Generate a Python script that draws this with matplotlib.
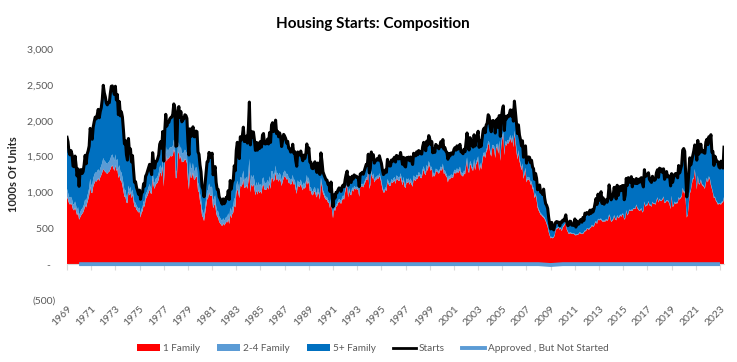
import matplotlib
matplotlib.use("Agg")
import matplotlib.pyplot as plt
from matplotlib.ticker import FuncFormatter
from matplotlib.patches import Patch
from matplotlib.lines import Line2D
import numpy as np

# --- DATA: monthly, Jan 1969 - May 2023, thousands of units (SAAR) ---
first_year = 1969

starts = [
    1769, 1705, 1561, 1524, 1583, 1528, 1368, 1358, 1507, 1381, 1229, 1327,  # 1969
    1085, 1305, 1319, 1264, 1290, 1385, 1517, 1399, 1534, 1580, 1647, 1893,  # 1970
    1828, 1741, 1910, 1986, 2049, 2026, 2083, 2158, 2041, 2128, 2182, 2295,  # 1971
    2494, 2390, 2334, 2249, 2221, 2254, 2252, 2382, 2481, 2485, 2421, 2366,  # 1972
    2481, 2289, 2365, 2084, 2266, 2067, 2123, 2051, 1874, 1677, 1724, 1526,  # 1973
    1451, 1752, 1555, 1607, 1426, 1513, 1316, 1142, 1150, 1070, 1026, 975,   # 1974
    1032, 904, 993, 1005, 1121, 1087, 1226, 1254, 1300, 1343, 1392, 1304,    # 1975
    1248, 1554, 1414, 1340, 1428, 1435, 1471, 1524, 1672, 1708, 1617, 1849,  # 1976
    1437, 1856, 2089, 1924, 1987, 1976, 2025, 2044, 2050, 2092, 2234, 2183,  # 1977
    1644, 1651, 2124, 2197, 2044, 2129, 1985, 2015, 2026, 2083, 2072, 2033,  # 1978
    1708, 1522, 1887, 1781, 1815, 1915, 1778, 1776, 1856, 1847, 1565, 1531,  # 1979
    1381, 1288, 1080, 1045, 940, 1116, 1264, 1425, 1432, 1558, 1486, 1507,   # 1980
    1547, 1246, 1306, 1360, 1140, 1045, 1041, 940, 911, 873, 837, 910,       # 1981
    843, 866, 931, 917, 1025, 902, 1166, 1046, 1144, 1173, 1372, 1303,       # 1982
    1586, 1699, 1606, 1472, 1776, 1733, 1785, 1910, 1710, 1715, 1785, 1688,  # 1983
    1897, 2260, 1663, 1851, 1774, 1843, 1732, 1586, 1698, 1590, 1689, 1612,  # 1984
    1711, 1632, 1800, 1821, 1680, 1676, 1684, 1743, 1676, 1834, 1698, 1942,  # 1985
    1972, 1848, 1876, 2008, 1820, 1852, 1776, 1830, 1774, 1640, 1726, 1809,  # 1986
    1784, 1752, 1688, 1712, 1618, 1609, 1563, 1571, 1672, 1549, 1569, 1445,  # 1987
    1365, 1564, 1522, 1523, 1577, 1500, 1442, 1520, 1473, 1533, 1676, 1558,  # 1988
    1621, 1425, 1422, 1339, 1331, 1397, 1427, 1332, 1279, 1410, 1351, 1251,  # 1989
    1551, 1437, 1289, 1248, 1212, 1177, 1171, 1115, 1110, 1014, 1145, 969,   # 1990
    798, 965, 921, 1001, 996, 1036, 1063, 1049, 1015, 1079, 1103, 1079,      # 1991
    1176, 1250, 1297, 1099, 1214, 1145, 1139, 1226, 1186, 1244, 1214, 1227,  # 1992
    1210, 1210, 1083, 1258, 1260, 1280, 1254, 1300, 1343, 1392, 1376, 1533,  # 1993
    1272, 1337, 1564, 1465, 1526, 1409, 1439, 1450, 1474, 1450, 1511, 1455,  # 1994
    1407, 1316, 1249, 1267, 1314, 1281, 1461, 1416, 1369, 1369, 1452, 1431,  # 1995
    1467, 1491, 1424, 1516, 1504, 1467, 1472, 1557, 1475, 1392, 1489, 1370,  # 1996
    1355, 1486, 1457, 1492, 1442, 1494, 1437, 1390, 1546, 1520, 1510, 1566,  # 1997
    1525, 1584, 1567, 1540, 1536, 1641, 1698, 1614, 1582, 1715, 1660, 1792,  # 1998
    1748, 1670, 1710, 1553, 1611, 1559, 1669, 1648, 1635, 1608, 1648, 1708,  # 1999
    1636, 1737, 1604, 1626, 1575, 1559, 1463, 1541, 1507, 1549, 1551, 1532,  # 2000
    1600, 1625, 1590, 1649, 1605, 1636, 1670, 1567, 1562, 1540, 1602, 1568,  # 2001
    1698, 1829, 1642, 1592, 1764, 1717, 1655, 1633, 1804, 1648, 1753, 1788,  # 2002
    1853, 1629, 1726, 1643, 1751, 1867, 1897, 1833, 1939, 1967, 2083, 2057,  # 2003
    1911, 1846, 1998, 2003, 1981, 1828, 2002, 2024, 1905, 2072, 1782, 2042,  # 2004
    2144, 2207, 1864, 2061, 2025, 2068, 2054, 2095, 2151, 2065, 2147, 1994,  # 2005
    2273, 2119, 1969, 1821, 1942, 1802, 1737, 1650, 1720, 1491, 1570, 1649,  # 2006
    1409, 1480, 1495, 1490, 1415, 1448, 1354, 1330, 1183, 1264, 1197, 1037,  # 2007
    1084, 1103, 1005, 1013, 973, 1046, 923, 844, 820, 777, 652, 560,         # 2008
    490, 582, 505, 478, 540, 585, 594, 586, 585, 534, 588, 581,              # 2009
    614, 604, 636, 687, 583, 536, 546, 599, 594, 543, 545, 539,              # 2010
    630, 517, 600, 554, 561, 608, 623, 585, 650, 610, 711, 694,              # 2011
    720, 708, 694, 753, 708, 757, 728, 770, 843, 915, 833, 976,              # 2012
    888, 962, 1010, 847, 925, 836, 883, 898, 863, 936, 1105, 1003,           # 2013
    897, 928, 957, 1071, 1001, 909, 1100, 958, 1024, 1082, 1026, 1094,       # 2014
    1097, 898, 964, 1196, 1098, 1206, 1143, 1142, 1220, 1078, 1182, 1154,    # 2015
    1125, 1194, 1124, 1183, 1141, 1193, 1206, 1128, 1077, 1317, 1221, 1241,  # 2016
    1251, 1274, 1183, 1160, 1140, 1225, 1180, 1168, 1183, 1277, 1316, 1211,  # 2017
    1338, 1299, 1326, 1278, 1329, 1183, 1220, 1291, 1217, 1225, 1229, 1091,  # 2018
    1262, 1141, 1207, 1250, 1264, 1239, 1204, 1375, 1272, 1329, 1381, 1589,  # 2019
    1612, 1574, 1258, 938, 1046, 1275, 1483, 1383, 1440, 1513, 1577, 1662,   # 2020
    1600, 1450, 1725, 1534, 1594, 1673, 1565, 1584, 1555, 1546, 1703, 1741,  # 2021
    1666, 1777, 1716, 1805, 1562, 1571, 1377, 1505, 1463, 1432, 1427, 1357,  # 2022
    1340, 1436, 1380, 1340, 1631,                                            # 2023
]

one_family = [
    940, 900, 850, 830, 850, 820, 760, 750, 790, 740, 680, 720,              # 1969
    620, 650, 680, 700, 720, 760, 820, 790, 850, 900, 960, 1080,             # 1970
    1000, 990, 1080, 1120, 1160, 1150, 1170, 1200, 1160, 1210, 1240, 1280,   # 1971
    1330, 1300, 1290, 1270, 1260, 1280, 1290, 1320, 1360, 1380, 1340, 1300,  # 1972
    1380, 1300, 1330, 1200, 1250, 1170, 1160, 1100, 1020, 940, 940, 860,     # 1973
    850, 1010, 960, 1000, 920, 970, 880, 800, 800, 760, 740, 720,            # 1974
    740, 650, 720, 740, 820, 800, 900, 930, 960, 1000, 1040, 990,            # 1975
    980, 1190, 1090, 1050, 1110, 1120, 1140, 1180, 1260, 1280, 1220, 1370,   # 1976
    1080, 1370, 1540, 1430, 1480, 1470, 1500, 1510, 1500, 1520, 1600, 1560,  # 1977
    1200, 1200, 1530, 1570, 1460, 1510, 1420, 1430, 1430, 1470, 1450, 1410,  # 1978
    1170, 1040, 1300, 1200, 1220, 1280, 1180, 1180, 1230, 1210, 1030, 1000,  # 1979
    880, 820, 680, 650, 600, 700, 800, 900, 920, 1000, 950, 960,             # 1980
    950, 780, 820, 850, 720, 660, 650, 590, 570, 550, 530, 570,              # 1981
    540, 560, 590, 580, 630, 560, 700, 640, 700, 720, 820, 790,              # 1982
    980, 1050, 1000, 920, 1100, 1080, 1110, 1180, 1060, 1070, 1100, 1050,    # 1983
    1150, 1320, 1000, 1120, 1080, 1120, 1050, 960, 1030, 970, 1030, 990,     # 1984
    1020, 980, 1090, 1110, 1040, 1040, 1040, 1080, 1040, 1130, 1050, 1200,   # 1985
    1200, 1150, 1180, 1280, 1170, 1190, 1150, 1190, 1160, 1090, 1150, 1200,  # 1986
    1230, 1210, 1180, 1190, 1130, 1130, 1110, 1120, 1180, 1110, 1120, 1040,  # 1987
    980, 1110, 1080, 1080, 1120, 1070, 1030, 1080, 1050, 1090, 1180, 1110,   # 1988
    1150, 1020, 1020, 970, 960, 1000, 1020, 960, 930, 1010, 970, 900,        # 1989
    1160, 1080, 990, 960, 920, 900, 900, 860, 850, 780, 880, 750,            # 1990
    640, 770, 740, 800, 810, 850, 870, 860, 840, 890, 920, 900,              # 1991
    1000, 1060, 1110, 930, 1030, 970, 960, 1040, 1010, 1060, 1040, 1050,     # 1992
    1040, 1040, 940, 1080, 1080, 1090, 1070, 1110, 1140, 1180, 1170, 1300,   # 1993
    1050, 1100, 1270, 1190, 1230, 1140, 1170, 1180, 1200, 1190, 1230, 1190,  # 1994
    1130, 1050, 1000, 1000, 1040, 1020, 1150, 1120, 1090, 1090, 1150, 1130,  # 1995
    1150, 1170, 1120, 1190, 1180, 1160, 1160, 1220, 1160, 1100, 1170, 1080,  # 1996
    1060, 1150, 1130, 1150, 1110, 1150, 1110, 1080, 1190, 1170, 1160, 1200,  # 1997
    1190, 1240, 1230, 1200, 1200, 1280, 1320, 1260, 1240, 1340, 1300, 1390,  # 1998
    1360, 1300, 1330, 1210, 1250, 1220, 1300, 1290, 1280, 1260, 1290, 1330,  # 1999
    1300, 1360, 1260, 1270, 1230, 1210, 1140, 1200, 1180, 1210, 1210, 1200,  # 2000
    1260, 1280, 1260, 1300, 1270, 1290, 1320, 1240, 1240, 1220, 1270, 1250,  # 2001
    1350, 1450, 1300, 1270, 1400, 1370, 1320, 1300, 1430, 1310, 1390, 1420,  # 2002
    1470, 1300, 1380, 1320, 1410, 1500, 1530, 1480, 1560, 1590, 1680, 1660,  # 2003
    1550, 1500, 1620, 1620, 1600, 1480, 1620, 1640, 1540, 1680, 1440, 1650,  # 2004
    1750, 1800, 1520, 1680, 1650, 1690, 1680, 1710, 1760, 1690, 1760, 1630,  # 2005
    1820, 1700, 1580, 1460, 1550, 1440, 1380, 1310, 1370, 1190, 1250, 1310,  # 2006
    1140, 1180, 1180, 1170, 1110, 1120, 1050, 1030, 920, 960, 900, 790,      # 2007
    750, 720, 690, 680, 660, 650, 630, 600, 560, 520, 450, 400,              # 2008
    360, 370, 360, 370, 400, 480, 490, 500, 510, 480, 500, 460,              # 2009
    510, 530, 550, 580, 480, 450, 420, 430, 430, 420, 420, 420,              # 2010
    410, 400, 410, 410, 420, 440, 420, 420, 420, 440, 460, 460,              # 2011
    490, 490, 480, 500, 510, 540, 520, 530, 570, 590, 560, 620,              # 2012
    610, 620, 620, 600, 590, 600, 590, 620, 600, 620, 680, 650,              # 2013
    590, 600, 620, 670, 630, 610, 670, 640, 650, 680, 660, 690,              # 2014
    690, 620, 640, 740, 680, 700, 750, 740, 750, 740, 770, 770,              # 2015
    770, 820, 780, 760, 740, 750, 770, 720, 740, 860, 800, 820,              # 2016
    820, 870, 820, 820, 800, 860, 840, 840, 830, 880, 920, 860,              # 2017
    900, 880, 880, 900, 930, 850, 860, 880, 880, 870, 830, 770,              # 2018
    940, 800, 810, 860, 840, 850, 850, 920, 900, 920, 940, 1050,             # 2019
    1000, 1000, 880, 650, 680, 830, 980, 1020, 1110, 1180, 1190, 1310,       # 2020
    1190, 1040, 1220, 1120, 1110, 1170, 1110, 1090, 1080, 1050, 1130, 1190,  # 2021
    1140, 1210, 1180, 1100, 1050, 990, 920, 930, 880, 860, 830, 840,         # 2022
    840, 830, 860, 860, 920,                                                 # 2023
]

two_to_four = [
    110, 100, 90, 90, 90, 85, 80, 80, 85, 80, 70, 75,                        # 1969
    60, 70, 75, 75, 75, 80, 85, 80, 90, 95, 100, 110,                        # 1970
    110, 105, 115, 120, 120, 120, 125, 125, 120, 125, 130, 135,              # 1971
    150, 145, 140, 140, 135, 140, 140, 145, 150, 150, 145, 140,              # 1972
    150, 135, 140, 125, 130, 120, 120, 115, 105, 95, 95, 85,                 # 1973
    75, 85, 75, 80, 70, 72, 65, 58, 58, 55, 52, 50,                          # 1974
    50, 45, 50, 55, 60, 60, 65, 68, 70, 75, 78, 75,                          # 1975
    70, 85, 80, 75, 80, 82, 85, 88, 95, 98, 95, 105,                         # 1976
    90, 110, 125, 120, 122, 120, 125, 125, 125, 128, 135, 130,               # 1977
    100, 100, 130, 130, 125, 130, 120, 122, 125, 128, 127, 125,              # 1978
    120, 105, 130, 125, 125, 130, 122, 122, 125, 125, 108, 105,              # 1979
    105, 100, 85, 80, 75, 90, 100, 115, 118, 125, 120, 122,                  # 1980
    120, 100, 105, 110, 90, 85, 85, 78, 75, 70, 68, 72,                      # 1981
    65, 68, 72, 72, 80, 70, 90, 82, 90, 92, 105, 100,                        # 1982
    105, 112, 108, 100, 118, 115, 118, 125, 112, 112, 118, 112,              # 1983
    130, 150, 115, 125, 120, 125, 118, 108, 115, 110, 115, 110,              # 1984
    95, 90, 100, 100, 92, 92, 92, 95, 90, 98, 90, 100,                       # 1985
    95, 90, 90, 95, 85, 85, 82, 84, 80, 75, 78, 80,                          # 1986
    75, 72, 70, 70, 66, 65, 63, 63, 65, 60, 60, 55,                          # 1987
    52, 60, 58, 58, 60, 58, 56, 59, 57, 60, 64, 60,                          # 1988
    62, 56, 54, 54, 54, 54, 55, 52, 50, 56, 50, 48,                          # 1989
    50, 45, 42, 40, 38, 37, 37, 35, 35, 32, 36, 30,                          # 1990
    28, 33, 32, 35, 35, 37, 38, 37, 36, 38, 39, 38,                          # 1991
    30, 32, 33, 28, 31, 30, 30, 32, 31, 32, 31, 31,                          # 1992
    30, 30, 27, 31, 31, 31, 30, 32, 33, 34, 33, 37,                          # 1993
    30, 32, 38, 35, 36, 34, 35, 35, 36, 35, 37, 35,                          # 1994
    35, 33, 31, 32, 33, 32, 37, 36, 34, 35, 37, 36,                          # 1995
    45, 46, 44, 47, 46, 45, 45, 48, 45, 43, 46, 42,                          # 1996
    42, 46, 45, 46, 44, 46, 44, 43, 47, 46, 46, 48,                          # 1997
    40, 42, 42, 41, 41, 44, 45, 43, 42, 46, 44, 48,                          # 1998
    34, 32, 33, 30, 31, 30, 32, 32, 31, 31, 32, 33,                          # 1999
    40, 43, 40, 40, 39, 38, 36, 38, 37, 38, 38, 38,                          # 2000
    37, 38, 37, 38, 37, 38, 39, 36, 36, 36, 37, 36,                          # 2001
    37, 40, 36, 35, 39, 38, 36, 36, 40, 36, 38, 39,                          # 2002
    34, 30, 32, 30, 32, 34, 35, 34, 36, 36, 38, 38,                          # 2003
    40, 39, 42, 42, 42, 38, 42, 43, 40, 44, 38, 43,                          # 2004
    42, 43, 36, 40, 40, 41, 40, 41, 42, 40, 42, 39,                          # 2005
    45, 42, 40, 37, 39, 36, 35, 33, 35, 30, 32, 33,                          # 2006
    35, 36, 36, 36, 34, 35, 33, 32, 28, 30, 28, 25,                          # 2007
    22, 22, 20, 20, 19, 20, 18, 17, 16, 15, 13, 11,                          # 2008
    12, 13, 11, 11, 12, 12, 12, 12, 12, 11, 12, 12,                          # 2009
    12, 12, 13, 13, 11, 11, 11, 12, 12, 11, 11, 11,                          # 2010
    10, 9, 10, 9, 9, 10, 10, 10, 11, 10, 12, 12,                             # 2011
    11, 11, 10, 11, 10, 11, 11, 11, 12, 13, 12, 14,                          # 2012
    12, 13, 14, 12, 13, 12, 12, 13, 12, 13, 15, 14,                          # 2013
    12, 13, 13, 15, 14, 13, 15, 13, 14, 15, 14, 15,                          # 2014
    12, 10, 10, 13, 12, 13, 12, 12, 13, 11, 12, 12,                          # 2015
    11, 12, 11, 12, 11, 12, 12, 11, 10, 13, 12, 12,                          # 2016
    11, 12, 11, 11, 10, 11, 11, 11, 11, 12, 12, 11,                          # 2017
    13, 13, 13, 13, 14, 12, 12, 13, 12, 12, 12, 11,                          # 2018
    13, 11, 12, 13, 13, 12, 12, 14, 13, 13, 14, 16,                          # 2019
    15, 14, 12, 9, 10, 12, 14, 13, 14, 14, 15, 16,                           # 2020
    14, 13, 15, 13, 13, 14, 13, 13, 13, 13, 14, 14,                          # 2021
    15, 16, 16, 17, 14, 14, 13, 14, 14, 14, 14, 13,                          # 2022
    13, 14, 14, 13, 16,                                                      # 2023
]

# "Approved, But Not Started" series sits on the zero line (annual, 1970-2023)
approved_years = list(range(1970, 2024))
approved_not_started = [0] * 39 + [-12] + [0] * 14

year_ticks = list(range(1969, 2024, 2))

# --- derived ---
starts = np.array(starts, dtype=float)
one_family = np.array(one_family, dtype=float)
two_to_four = np.array(two_to_four, dtype=float)
five_plus = starts - one_family - two_to_four
dates = first_year + np.arange(len(starts)) / 12.0

# --- plotting ---
plt.rcParams['font.family'] = ['Lato', 'DejaVu Sans']
fig = plt.figure(figsize=(7.37, 3.62), dpi=100)
ax = fig.add_axes([67 / 737, 1 - 300 / 362, (724 - 67) / 737, 251 / 362])

c_one, c_two, c_five = '#FF0000', '#5B9BD5', '#0070C0'
ax.stackplot(dates, one_family, two_to_four, five_plus,
             colors=[c_one, c_two, c_five], linewidth=0, zorder=1)
ax.plot(dates, starts, color='black', lw=2.2, zorder=3)
ax.plot(approved_years, approved_not_started, color=c_two, lw=2.8,
        solid_capstyle='butt', zorder=4)

ax.set_xlim(first_year, dates[-1])
ax.set_ylim(-500, 3000)

# y axis
def fmt_y(v, pos):
    v = int(round(v))
    if v == 0:
        return '-  '
    if v < 0:
        return f'({-v:,})'
    return f'{v:,} '

ax.set_yticks(range(-500, 3001, 500))
ax.yaxis.set_major_formatter(FuncFormatter(fmt_y))
ax.tick_params(axis='y', length=0, pad=8, labelsize=7.5, labelcolor='#595959')
ax.set_ylabel('1000s Of Units', fontsize=8, fontweight='bold', labelpad=6,
              color='#262626')

for side in ['left', 'right', 'top']:
    ax.spines[side].set_visible(False)

# zero line with tick marks, labels at the bottom
ax.spines['bottom'].set_position(('data', 0))
ax.spines['bottom'].set_color('#D9D9D9')
ax.set_xticks(year_ticks)
ax.tick_params(axis='x', length=4, color='#D9D9D9', labelbottom=False)

sec = ax.secondary_xaxis('bottom')
sec.set_xticks(year_ticks, labels=[str(y) for y in year_ticks])
sec.tick_params(length=0, pad=3, labelsize=7.5, labelcolor='#595959')
sec.spines['bottom'].set_visible(False)
for lab in sec.get_xticklabels():
    lab.set_rotation(45)
    lab.set_ha('right')
    lab.set_rotation_mode('anchor')

fig.text(0.506, 0.934, 'Housing Starts: Composition', ha='center', va='center',
         fontsize=11, fontweight='bold', color='black')

handles = [
    Patch(facecolor=c_one, label='1 Family'),
    Patch(facecolor=c_two, label='2-4 Family'),
    Patch(facecolor=c_five, label='5+ Family'),
    Line2D([], [], color='black', lw=2, label='Starts'),
    Line2D([], [], color=c_two, lw=2.8, label='Approved , But Not Started'),
]
fig.legend(handles=handles, loc='center', bbox_to_anchor=(0.506, 0.036), ncol=5,
           frameon=False, fontsize=7.2, handlelength=2.3, handleheight=0.7,
           handletextpad=0.3, columnspacing=1.7, labelcolor='#595959')

fig.savefig('out.png', dpi=100)
